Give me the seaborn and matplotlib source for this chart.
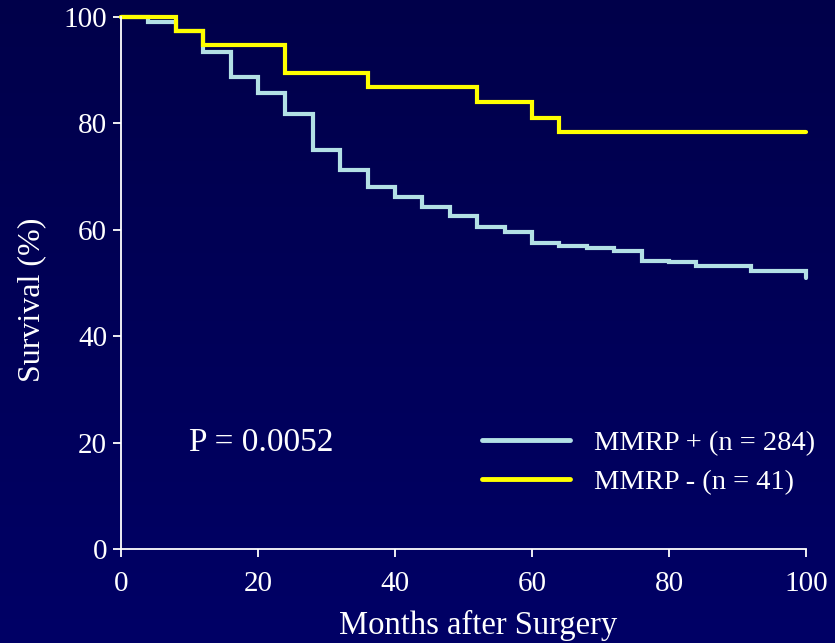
# Curvas de supervivencia (Kaplan-Meier) según MMRP
import numpy as np # Vectores
import pandas as pd # Datasets
import matplotlib.pyplot as plt # Gráficos
import seaborn as sns # Gráficos

# Datos: meses y supervivencia (%) en cada escalón
meses_pos = [0, 4, 8, 12, 16, 20, 24, 28, 32, 36, 40, 44, 48, 52, 56, 60, 64, 68, 72, 76, 80, 84, 92, 100]
superv_pos = [100, 99.1, 97.4, 93.4, 88.8, 85.8, 81.8, 75.0, 71.2, 68.1, 66.1, 64.3, 62.5, 60.6,
              59.6, 57.6, 57.0, 56.5, 56.1, 54.1, 53.9, 53.2, 52.2, 50.9]
meses_neg = [0, 8, 12, 24, 36, 52, 60, 64, 100]
superv_neg = [100, 97.4, 94.7, 89.5, 86.8, 84.1, 81.0, 78.3, 78.3]

grupos = ['MMRP + (n = 284)', 'MMRP - (n = 41)']
colores = ['#b3e0e5', '#ffff00']
ticks = [0, 20, 40, 60, 80, 100]

# Juntamos todo en un dataset largo
df = pd.concat([
    pd.DataFrame({'meses': meses_pos, 'superv': superv_pos, 'grupo': grupos[0]}),
    pd.DataFrame({'meses': meses_neg, 'superv': superv_neg, 'grupo': grupos[1]}),
])

sns.set_style('white')
plt.rcParams['font.family'] = ['Liberation Serif', 'DejaVu Serif']

fig = plt.figure(figsize=(8.35, 6.43), dpi=100)

# Fondo azul oscuro con un ligero degradado
fondo = fig.add_axes([0, 0, 1, 1], zorder=-10)
grad = np.linspace(0, 1, 256).reshape(-1, 1)
arriba = np.array([0, 0, 74]) / 255
abajo = np.array([0, 0, 102]) / 255
img = arriba + grad[:, :, None] * (abajo - arriba)
fondo.imshow(img, aspect='auto', extent=[0, 1, 0, 1])
fondo.axis('off')

ax = fig.add_axes([0.1449, 0.1462, 0.8204, 0.8274])
ax.patch.set_alpha(0)

sns.lineplot(data=df, x='meses', y='superv', hue='grupo', hue_order=grupos,
             palette=colores, estimator=None, sort=True, drawstyle='steps-post',
             linewidth=3.0, solid_capstyle='round', solid_joinstyle='miter',
             clip_on=False, ax=ax)

ax.set_xlim(0, 100)
ax.set_ylim(0, 100)
ax.set_xticks(ticks)
ax.set_yticks(ticks)

# Ejes blancos, solo izquierda y abajo
for lado in ['top', 'right']:
    ax.spines[lado].set_visible(False)
for lado in ['left', 'bottom']:
    ax.spines[lado].set_color('white')
    ax.spines[lado].set_linewidth(1.3)
ax.tick_params(bottom=True, left=True, colors='white', direction='out',
               length=6, width=1.3, labelsize=21, pad=4)
ax.tick_params(axis='x', pad=10)

ax.set_xlabel('Months after Surgery', color='white', fontsize=23.5, va='center')
ax.xaxis.set_label_coords(0.522, -0.143)
ax.set_ylabel('Survival (%)', color='white', fontsize=23, va='center')
ax.yaxis.set_label_coords(-0.131, 0.468)

# Valor p
ax.text(10, 20, 'P = 0.0052', color='white', fontsize=24, va='center', ha='left')

# Leyenda sin marco
handles, labels = ax.get_legend_handles_labels()
for h in handles:
    h.set_linewidth(3.5)
    h.set_solid_capstyle('round')
leg = ax.legend(handles, labels, loc='upper left', bbox_to_anchor=(0.527, 0.224),
                frameon=False, fontsize=20.5, handlelength=3.1, handletextpad=0.85,
                labelspacing=0.48, borderpad=0, borderaxespad=0)
for t in leg.get_texts():
    t.set_color('white')

plt.savefig('out.png', dpi=100, facecolor=fig.get_facecolor())
